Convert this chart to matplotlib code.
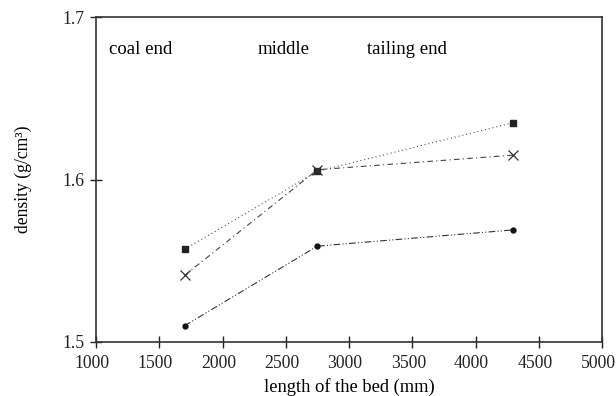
import matplotlib.pyplot as plt
import matplotlib.transforms as mtransforms
import numpy as np

plt.rcParams['font.family'] = ['Liberation Serif', 'DejaVu Serif']

# positions along the bed (mm)
bed_length = [1700, 2750, 4300]

# density values (g/cm3) for the three series
density_square = [1.557, 1.605, 1.635]
density_cross = [1.541, 1.606, 1.615]
density_circle = [1.510, 1.559, 1.569]

x_ticks = [1000, 1500, 2000, 2500, 3000, 3500, 4000, 4500, 5000]
y_ticks = [1.5, 1.6, 1.7]

fig = plt.figure(figsize=(6.16, 3.96), dpi=100)
ax = fig.add_axes([96 / 616, 54 / 396, 506 / 616, 325 / 396])

ax.plot(bed_length, density_square, linestyle=(0, (1, 2.5)), color='#555555', linewidth=0.8,
        marker='s', markersize=4, markerfacecolor='#222222', markeredgecolor='#222222')
ax.plot(bed_length, density_cross, linestyle=(0, (5, 3, 1, 3)), color='#444444', linewidth=0.8,
        marker='x', markersize=7, markeredgecolor='#333333', markeredgewidth=0.9)
ax.plot(bed_length, density_circle, linestyle=(0, (6, 2, 1, 2, 1, 2)), color='#333333', linewidth=0.8,
        marker='o', markersize=3.5, markerfacecolor='#111111', markeredgecolor='#111111')

ax.set_xlim(1000, 5000)
ax.set_ylim(1.5, 1.7)
ax.set_xticks(x_ticks)
ax.set_yticks(y_ticks)
ax.set_yticklabels(['1.5', '1.6', '1.7'])
ax.tick_params(direction='inout', length=9, width=1, labelsize=12.7, colors='#222222')
ax.tick_params(axis='x', pad=5)
for s in ax.spines.values():
    s.set_linewidth(1.2)
    s.set_color('#333333')

# nudge x tick labels a little to the left, as in the original
shift = mtransforms.ScaledTranslation(-4 / 100, 0, fig.dpi_scale_trans)
for lbl in ax.get_xticklabels():
    lbl.set_transform(lbl.get_transform() + shift)

ax.set_xlabel('length of the bed (mm)', fontsize=13.3, labelpad=4)
ax.set_ylabel('density (g/cm³)', fontsize=12.7, labelpad=22)

ax.text(1100, 1.680, 'coal end', fontsize=13.5, va='center', ha='left')
ax.text(2275, 1.680, 'middle', fontsize=13.5, va='center', ha='left')
ax.text(3140, 1.680, 'tailing end', fontsize=13.5, va='center', ha='left')

plt.savefig('out.png', dpi=100)
